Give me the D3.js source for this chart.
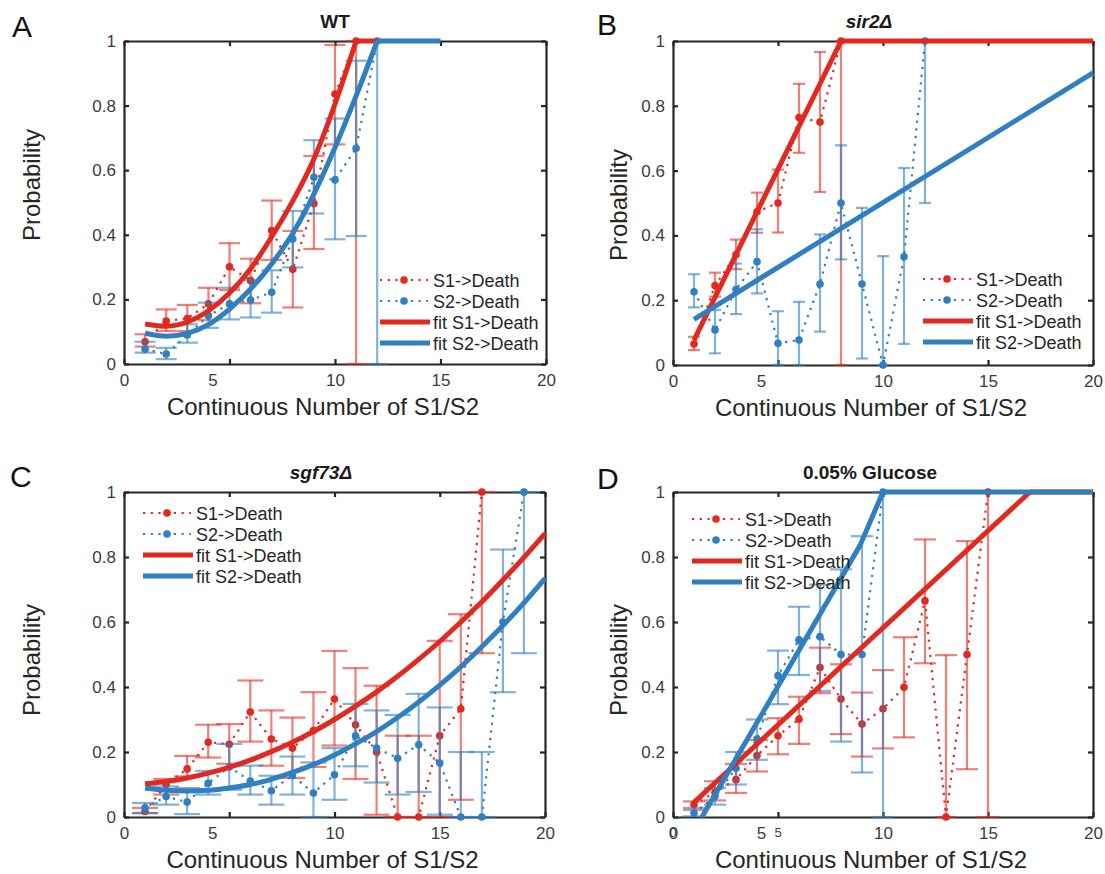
<!DOCTYPE html>
<html>
<head>
<meta charset="utf-8">
<script src="https://cdn.jsdelivr.net/npm/d3@7"></script>
<style>
  body { margin: 0; background: #fff; }
  svg { display: block; font-family: "Liberation Sans", Arial, sans-serif; }
</style>
</head>
<body>
<script>
// shared tick labels and names
const xTicks = [0, 5, 10, 15, 20]
const yTicks = [0, 0.2, 0.4, 0.6, 0.8, 1]
const legendNames = ['S1->Death', 'S2->Death', 'fit S1->Death', 'fit S2->Death']
const panelLetters = ['A', 'B', 'C', 'D']
const panelTitles = ['WT', 'sir2Δ', 'sgf73Δ', '0.05% Glucose']
const xLabel = 'Continuous Number of S1/S2'
const yLabel = 'Probability'

// A - WT
const a_x1 = [1, 2, 3, 4, 5, 6, 7, 8, 9, 10, 11]
const a_p1 = [0.069, 0.133, 0.141, 0.186, 0.301, 0.258, 0.413, 0.293, 0.497, 0.836, 1.0]
const a_lo1 = [0.054, 0.102, 0.102, 0.136, 0.229, 0.188, 0.322, 0.175, 0.356, 0.68, 0]
const a_hi1 = [0.092, 0.169, 0.183, 0.236, 0.374, 0.326, 0.506, 0.412, 0.644, 0.988, 1.0]
const a_x2 = [1, 2, 3, 4, 5, 6, 7, 8, 9, 10, 11, 12]
const a_p2 = [0.046, 0.031, 0.09, 0.149, 0.186, 0.198, 0.222, 0.387, 0.578, 0.570, 0.668, 1.0]
const a_lo2 = [0.035, 0.015, 0.066, 0.112, 0.138, 0.144, 0.159, 0.299, 0.466, 0.386, 0.396, 0]
const a_hi2 = [0.069, 0.05, 0.123, 0.19, 0.236, 0.26, 0.29, 0.474, 0.693, 0.76, 0.939, 1.0]
const a_fx1 = [1, 2, 3, 4, 5, 6, 7, 8, 9, 10, 11, 12]
const a_fy1 = [0.124, 0.117, 0.13, 0.165, 0.22, 0.295, 0.394, 0.505, 0.635, 0.805, 1.0, 1.0]
const a_fx2 = [1, 2, 3, 4, 5, 6, 7, 8, 9, 10, 11, 12, 13, 14, 15]
const a_fy2 = [0.095, 0.086, 0.095, 0.122, 0.17, 0.232, 0.31, 0.405, 0.526, 0.67, 0.83, 1.0, 1.0, 1.0, 1.0]

// B - sir2
const b_x1 = [1, 2, 3, 4, 5, 6, 7, 8]
const b_p1 = [0.065, 0.245, 0.34, 0.473, 0.5, 0.764, 0.75, 1.0]
const b_lo1 = [0.046, 0.211, 0.296, 0.408, 0.409, 0.655, 0.534, 0]
const b_hi1 = [0.087, 0.285, 0.387, 0.532, 0.603, 0.868, 0.966, 1.0]
const b_x2 = [1, 2, 3, 4, 5, 6, 7, 8, 9, 10, 11, 12]
const b_p2 = [0.226, 0.108, 0.233, 0.319, 0.067, 0.077, 0.25, 0.5, 0.25, 0, 0.334, 1.0]
const b_lo2 = [0.178, 0.036, 0.157, 0.221, 0, 0, 0.103, 0.326, 0.02, 0, 0.065, 0.5]
const b_hi2 = [0.28, 0.17, 0.313, 0.419, 0.166, 0.195, 0.403, 0.678, 0.485, 0.336, 0.608, 1.0]
const b_fx1 = [1, 8, 20]
const b_fy1 = [0.077, 1.0, 1.0]
const b_fx2 = [1, 20]
const b_fy2 = [0.141, 0.902]

// C - sgf73
const c_x1 = [1, 2, 3, 4, 5, 6, 7, 8, 9, 10, 11, 12, 13, 14, 15, 16, 17]
const c_p1 = [0.017, 0.1, 0.148, 0.23, 0.224, 0.323, 0.24, 0.212, 0.266, 0.363, 0.284, 0.2, 0, 0, 0.25, 0.333, 1.0]
const c_lo1 = [0.012, 0.069, 0.125, 0.183, 0.164, 0.232, 0.158, 0.12, 0.154, 0.22, 0.117, 0.007, 0, 0, 0, 0.053, 0.504]
const c_hi1 = [0.028, 0.117, 0.188, 0.284, 0.286, 0.42, 0.328, 0.306, 0.384, 0.511, 0.458, 0.404, 0.25, 0.25, 0.542, 0.624, 1.0]
const c_x2 = [1, 2, 3, 4, 5, 6, 7, 8, 9, 10, 11, 12, 13, 14, 15, 16, 17, 18, 19]
const c_p2 = [0.028, 0.063, 0.046, 0.104, 0.154, 0.111, 0.081, 0.128, 0.074, 0.13, 0.25, 0.212, 0.181, 0.222, 0.166, 0, 0, 0.6, 1.0]
const c_lo2 = [0.012, 0.038, 0.009, 0.069, 0.084, 0.069, 0.038, 0.069, 0, 0.053, 0.156, 0.106, 0.069, 0.077, 0.007, 0, 0, 0.384, 0.504]
const c_hi2 = [0.043, 0.094, 0.089, 0.142, 0.225, 0.158, 0.127, 0.186, 0.168, 0.212, 0.348, 0.328, 0.314, 0.379, 0.337, 0.2, 0.2, 0.823, 1.0]
const c_fx = [1, 2, 3, 4, 5, 6, 7, 8, 9, 10, 11, 12, 13, 14, 15, 16, 17, 18, 19, 20]
const c_fy1 = [0.102, 0.109, 0.12, 0.135, 0.153, 0.175, 0.201, 0.23, 0.263, 0.3, 0.341, 0.385, 0.433, 0.485, 0.54, 0.6, 0.662, 0.729, 0.799, 0.872]
const c_fy2 = [0.089, 0.082, 0.08, 0.082, 0.089, 0.1, 0.116, 0.137, 0.161, 0.191, 0.225, 0.263, 0.306, 0.354, 0.406, 0.462, 0.524, 0.589, 0.659, 0.734]

// D - 0.05% glucose
const d_x1 = [1, 2, 3, 4, 5, 6, 7, 8, 9, 10, 11, 12, 13, 14, 15]
const d_p1 = [0.038, 0.076, 0.115, 0.189, 0.25, 0.301, 0.46, 0.363, 0.286, 0.333, 0.399, 0.665, 0, 0.5, 1.0]
const d_lo1 = [0.022, 0.051, 0.074, 0.14, 0.193, 0.225, 0.381, 0.255, 0.186, 0.211, 0.245, 0.473, 0, 0.147, 0]
const d_hi1 = [0.048, 0.11, 0.163, 0.237, 0.304, 0.37, 0.521, 0.47, 0.383, 0.452, 0.553, 0.854, 0.498, 0.849, 1.0]
const d_x2 = [1, 2, 3, 4, 5, 6, 7, 8, 9, 10]
const d_p2 = [0.012, 0.063, 0.15, 0.24, 0.435, 0.545, 0.555, 0.5, 0.5, 1.0]
const d_lo2 = [0.002, 0.038, 0.1, 0.176, 0.347, 0.437, 0.388, 0.232, 0.137, 0]
const d_hi2 = [0.028, 0.089, 0.2, 0.3, 0.512, 0.647, 0.715, 0.762, 0.864, 1.0]
const d_fx1 = [1, 17, 20]
const d_fy1 = [0.045, 1.0, 1.0]
const d_fx2 = [1.38, 8.9, 10, 20]
const d_fy2 = [0, 0.835, 1.0, 1.0]

const red = '#e2291f'
const blue = '#2f7fc1'
const axisColor = '#262626'

const width = 1105
const height = 874

const svg = d3.select('body')
  .append('svg')
  .attr('width', width)
  .attr('height', height)

svg.append('rect').attr('width', width).attr('height', height).attr('fill', '#fff')

// layout of the four panels
const panels = [
  { l: 124, r: 546, t: 41, b: 364, cap: 21, smooth: true, legX: 380, legY: 280, titleX: 335, letterX: 12, letterY: 37, yLabX: 40, yLabY: 185,
    s1: [a_x1, a_p1, a_lo1, a_hi1], s2: [a_x2, a_p2, a_lo2, a_hi2], f1: [a_fx1, a_fy1], f2: [a_fx2, a_fy2] },
  { l: 673, r: 1093, t: 41, b: 365, cap: 12, smooth: false, legX: 923, legY: 279, titleX: 869, letterX: 597, letterY: 35, yLabX: 627, yLabY: 205,
    s1: [b_x1, b_p1, b_lo1, b_hi1], s2: [b_x2, b_p2, b_lo2, b_hi2], f1: [b_fx1, b_fy1], f2: [b_fx2, b_fy2] },
  { l: 124, r: 545, t: 492, b: 817, cap: 26, smooth: true, legX: 143, legY: 513, titleX: 321, letterX: 10, letterY: 487, yLabX: 40, yLabY: 660,
    s1: [c_x1, c_p1, c_lo1, c_hi1], s2: [c_x2, c_p2, c_lo2, c_hi2], f1: [c_fx, c_fy1], f2: [c_fx, c_fy2] },
  { l: 673, r: 1093, t: 492, b: 817, cap: 22, smooth: false, legX: 692, legY: 519, titleX: 870, letterX: 597, letterY: 489, yLabX: 627, yLabY: 660,
    s1: [d_x1, d_p1, d_lo1, d_hi1], s2: [d_x2, d_p2, d_lo2, d_hi2], f1: [d_fx1, d_fy1], f2: [d_fx2, d_fy2] }
]

panels.forEach((p, i) => drawPanel(p, i))

function drawPanel(p, i) {
  const xScale = d3.scaleLinear().domain([0, 20]).range([p.l, p.r])
  const yScale = d3.scaleLinear().domain([0, 1]).range([p.b, p.t])
  const g = svg.append('g')

  //axes, ticks point inward like a matlab box
  const bottom = g.append('g')
    .attr('transform', 'translate(0,' + p.b + ')')
    .call(d3.axisBottom(xScale).tickValues(xTicks).tickSize(-5).tickSizeOuter(0).tickPadding(10).tickFormat(d3.format('d')))
  g.append('g')
    .attr('transform', 'translate(0,' + p.t + ')')
    .call(d3.axisTop(xScale).tickValues(xTicks).tickSize(-5).tickSizeOuter(0).tickFormat(''))
  g.append('g')
    .attr('transform', 'translate(' + p.l + ',0)')
    .call(d3.axisLeft(yScale).tickValues(yTicks).tickSize(-5).tickSizeOuter(0).tickPadding(8)
      .tickFormat(d => (d === 0 || d === 1) ? d : d3.format('.1f')(d)))
  g.append('g')
    .attr('transform', 'translate(' + p.r + ',0)')
    .call(d3.axisRight(yScale).tickValues(yTicks).tickSize(-5).tickSizeOuter(0).tickFormat(''))

  g.selectAll('.domain').attr('stroke', axisColor).attr('stroke-width', 2.2)
  g.selectAll('.tick line').attr('stroke', axisColor).attr('stroke-width', 2.2)
  g.selectAll('.tick text').attr('fill', '#3c3c3c').attr('font-size', 17)
    .attr('font-family', '"Liberation Sans", Arial, sans-serif')
  // the "5" label sits left of its tick in the original figure
  bottom.selectAll('.tick').filter(d => d === 5).select('text').attr('x', -17)

  if (i === 3) {
    // leftover small default labels in panel D
    ;[0, 5].forEach(v => {
      g.append('text')
        .attr('x', xScale(v))
        .attr('y', p.b + 20)
        .attr('text-anchor', 'middle')
        .attr('font-size', 13)
        .attr('fill', '#3c3c3c')
        .text(v)
    })
  }

  drawSeries(g, p.s1, red, p.cap, xScale, yScale)
  drawSeries(g, p.s2, blue, p.cap, xScale, yScale)
  drawFit(g, p.f1, red, p.smooth, xScale, yScale)
  drawFit(g, p.f2, blue, p.smooth, xScale, yScale)

  // legend
  const colors = [red, blue, red, blue]
  legendNames.forEach((name, k) => {
    const ly = p.legY + k * 21
    const row = g.append('g')
    if (k < 2) {
      row.append('line')
        .attr('x1', p.legX).attr('x2', p.legX + 48)
        .attr('y1', ly).attr('y2', ly)
        .attr('stroke', colors[k]).attr('stroke-width', 2.2)
        .attr('stroke-dasharray', '2.2,5.5')
      row.append('circle')
        .attr('cx', p.legX + 24).attr('cy', ly).attr('r', 3.8)
        .attr('fill', colors[k])
    } else {
      row.append('line')
        .attr('x1', p.legX).attr('x2', p.legX + 50)
        .attr('y1', ly).attr('y2', ly)
        .attr('stroke', colors[k]).attr('stroke-width', 5)
    }
    row.append('text')
      .attr('x', p.legX + 53).attr('y', ly + 6.5)
      .attr('font-size', 18).attr('fill', '#262626')
      .text(name)
  })

  // title, panel letter and axis labels
  g.append('text')
    .attr('x', p.titleX).attr('y', p.t - 13)
    .attr('text-anchor', 'middle')
    .attr('font-size', 19).attr('font-weight', 'bold')
    .attr('font-style', i === 1 || i === 2 ? 'italic' : 'normal')
    .attr('fill', '#1a1a1a')
    .text(panelTitles[i])
  g.append('text')
    .attr('x', p.letterX).attr('y', p.letterY)
    .attr('font-size', 30).attr('fill', '#111')
    .text(panelLetters[i])
  g.append('text')
    .attr('x', (p.l + p.r) / 2 - 12).attr('y', p.b + 51)
    .attr('text-anchor', 'middle')
    .attr('font-size', 24).attr('fill', '#262626')
    .text(xLabel)
  g.append('text')
    .attr('transform', 'translate(' + p.yLabX + ',' + p.yLabY + ') rotate(-90)')
    .attr('text-anchor', 'middle')
    .attr('font-size', 24).attr('fill', '#262626')
    .text(yLabel)
}

function drawSeries(g, s, color, capW, xScale, yScale) {
  const [xs, ps, lo, hi] = s
  const pts = xs.map((v, j) => ({ x: v, p: ps[j], lo: lo[j], hi: hi[j] }))
  const bars = g.append('g')
    .attr('stroke', color).attr('stroke-opacity', 0.6).attr('stroke-width', 2.2)
  pts.forEach(d => {
    const cx = xScale(d.x)
    bars.append('line').attr('x1', cx).attr('x2', cx).attr('y1', yScale(d.lo)).attr('y2', yScale(d.hi))
    ;[d.lo, d.hi].forEach(v => {
      bars.append('line')
        .attr('x1', cx - capW / 2).attr('x2', cx + capW / 2)
        .attr('y1', yScale(v)).attr('y2', yScale(v))
    })
  })
  const line = d3.line().x(d => xScale(d.x)).y(d => yScale(d.p))
  g.append('path')
    .attr('d', line(pts))
    .attr('fill', 'none')
    .attr('stroke', color).attr('stroke-width', 2.2)
    .attr('stroke-dasharray', '2.2,5.5')
  g.selectAll(null)
    .data(pts)
    .enter().append('circle')
    .attr('cx', d => xScale(d.x))
    .attr('cy', d => yScale(d.p))
    .attr('r', 3.8)
    .attr('fill', color)
}

function drawFit(g, f, color, smooth, xScale, yScale) {
  const pts = f[0].map((v, j) => ({ x: v, y: f[1][j] }))
  // rising part smooth, plateau at 1 straight
  let k = pts.findIndex(d => d.y >= 1)
  if (k < 0) k = pts.length - 1
  const rise = pts.slice(0, k + 1)
  const flat = pts.slice(k)
  const line = d3.line().x(d => xScale(d.x)).y(d => yScale(d.y))
  g.append('path')
    .attr('d', line.curve(smooth ? d3.curveMonotoneX : d3.curveLinear)(rise))
    .attr('fill', 'none').attr('stroke', color).attr('stroke-width', 5)
    .attr('stroke-linejoin', 'round')
  if (flat.length > 1) {
    g.append('path')
      .attr('d', line.curve(d3.curveLinear)(flat))
      .attr('fill', 'none').attr('stroke', color).attr('stroke-width', 5)
  }
}
</script>
</body>
</html>
